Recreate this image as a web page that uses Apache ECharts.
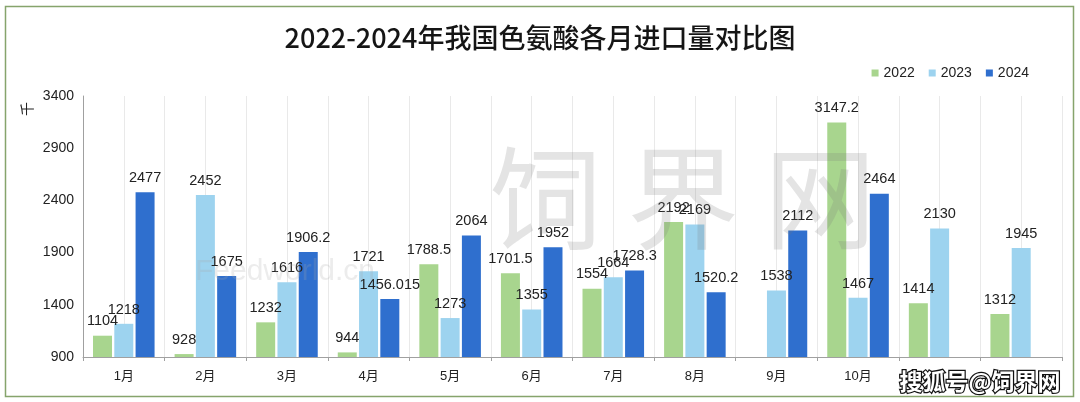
<!DOCTYPE html>
<html>
<head>
<meta charset="utf-8">
<script src="https://cdn.jsdelivr.net/npm/echarts@6/dist/echarts.min.js"></script>
<style>
html,body{margin:0;padding:0;background:#fff;}
#c{width:1080px;height:402px;}
</style>
</head>
<body>
<div id="c"></div>
<script>
const categories = ['1月','2月','3月','4月','5月','6月','7月','8月','9月','10月','11月','12月'];
const s2022 = [1104, 928, 1232, 944, 1788.5, 1701.5, 1554, 2192, null, 3147.2, 1414, 1312];
const s2023 = [1218, 2452, 1616, 1721, 1273, 1355, 1664, 2169, 1538, 1467, 2130, 1945];
const s2024 = [2477, 1675, 1906.2, 1456.015, 2064, 1952, 1728.3, 1520.2, 2112, 2464, null, null];
const shownLabels = 10; // months whose axis labels are visible

const FONT = 'Liberation Sans, Noto Sans CJK SC, sans-serif';
const chart = echarts.init(document.getElementById('c'));

function bar(name, data, color) {
  return {
    name: name, type: 'bar', data: data, barWidth: 19, barGap: '12%',
    itemStyle: { color: color },
    label: { show: true, position: 'top', distance: 7, color: '#222', fontSize: 14.5, fontFamily: FONT },
    z: 3
  };
}

chart.setOption({
  animation: false,
  backgroundColor: '#fff',
  title: {
    text: '2022-2024年我国色氨酸各月进口量对比图',
    left: 'center', top: 19,
    textStyle: { fontSize: 27, fontWeight: 500, color: '#151515', fontFamily: 'Noto Sans CJK SC, sans-serif' }
  },
  legend: {
    right: 46, top: 61,
    itemWidth: 7, itemHeight: 7, itemGap: 14, icon: 'rect',
    textStyle: { fontSize: 14, color: '#222', fontFamily: FONT },
    data: ['2022','2023','2024']
  },
  grid: { left: 83, right: 18, top: 96, bottom: 45 },
  xAxis: [{
    type: 'category', data: categories, z: 5,
    axisLine: { lineStyle: { color: '#a0a0a0' } },
    axisTick: { show: true, length: 4, lineStyle: { color: '#a0a0a0' } },
    axisLabel: { color: '#222', fontSize: 13, margin: 13, fontFamily: FONT, interval: 0,
      formatter: (v, i) => i < shownLabels ? v : '' },
    splitLine: { show: false }
  }, {
    type: 'value', min: 0, max: categories.length * 2, interval: 1, position: 'top',
    axisLine: { show: false }, axisTick: { show: false }, axisLabel: { show: false },
    splitLine: { show: true, lineStyle: { color: '#e9e9e9', width: 1 } }
  }],
  yAxis: {
    type: 'value', min: 900, max: 3400, interval: 500,
    axisLine: { show: true, lineStyle: { color: '#a0a0a0' } },
    axisTick: { show: false },
    axisLabel: { color: '#222', fontSize: 14, margin: 9, fontFamily: FONT, formatter: v => String(v) },
    splitLine: { show: false }
  },
  series: [
    bar('2022', s2022, '#a8d58e'),
    bar('2023', s2023, '#9dd3ef'),
    bar('2024', s2024, '#2f6fce')
  ],
  graphic: [
    { type: 'rect', shape: { x: 5.5, y: 6.5, width: 1068, height: 390 },
      style: { fill: 'none', stroke: '#86a46c', lineWidth: 1.5 }, z: 10, silent: true },
    { type: 'text', x: 27, y: 109, rotation: Math.PI / 2,
      style: { text: '千', fontSize: 14, fill: '#222', align: 'center', verticalAlign: 'middle', fontFamily: 'Noto Sans CJK SC' }, z: 10 },
    { type: 'text', x: 683, y: 198,
      style: { text: '饲 界 网', fontSize: 112, fill: 'rgba(120,120,120,0.2)', align: 'center', verticalAlign: 'middle', fontFamily: 'Noto Sans CJK SC' }, z: 20, silent: true },
    { type: 'text', x: 285, y: 272,
      style: { text: 'Feedworld.cn', fontSize: 30, fill: 'rgba(170,170,170,0.22)', align: 'center', verticalAlign: 'middle', fontFamily: FONT }, z: 20, silent: true },
    { type: 'text', x: 980, y: 381,
      style: { text: '搜狐号@饲界网', fontSize: 23, fontWeight: 'bold', fill: '#fff', stroke: '#111', lineWidth: 2.5, align: 'center', verticalAlign: 'middle', fontFamily: 'Noto Sans CJK SC' }, z: 30, silent: true }
  ]
});
</script>
</body>
</html>
